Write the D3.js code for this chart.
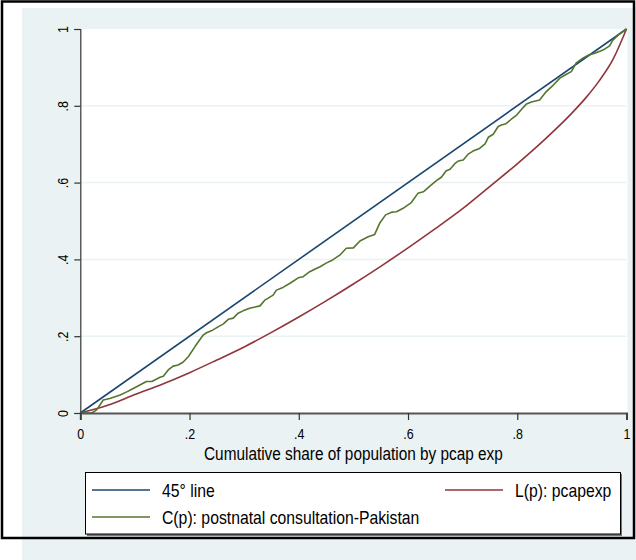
<!DOCTYPE html>
<html lang="en">
<head>
<meta charset="UTF-8">
<script src="https://d3js.org/d3.v7.min.js"></script>
<style>
  body { margin: 0; background: #fff; }
  text { font-family: "Liberation Sans Narrow", "Arial Narrow", "Liberation Sans", Arial, sans-serif; fill: #000; }
</style>
</head>
<body>
<div class="chart"></div>
<script>
// tick values
var tickValues = [0, 0.2, 0.4, 0.6, 0.8, 1]
var tickLabels = ["0", ".2", ".4", ".6", ".8", "1"]

// 45 degree line
var lineP = [0, 1]
var lineV = [0, 1]

// L(p): pcapexp (Lorenz curve)
var lorenzP = [0, .05, .1, .15, .2, .25, .3, .35, .4, .45, .5, .55, .6, .65, .7, .75, .8, .85, .9, .925, .95, .975, 1]
var lorenzV = [0, .02, .048, .075, .105, .138, .172, .21, .25, .292, .336, .382, .43, .48, .532, .59, .649, .712, .781, .82, .865, .92, 1]

// C(p): postnatal consultation-Pakistan (concentration curve)
var concP = [0, .021, .03, .042, .054, .073, .085, .097, .109, .121, .131, .146, .152, .161, .17, .179, .188, .198, .21, .225,
  .231, .24, .253, .262, .271, .28, .289, .298, .31, .32, .329, .338, .344, .353, .359, .371, .384, .399, .408, .42,
  .433, .439, .451, .46, .475, .487, .5, .512, .527, .539, .548, .559, .57, .579, .591, .606, .618, .628, .64, .652,
  .661, .67, .677, .686, .692, .701, .71, .719, .731, .741, .747, .756, .765, .771, .779, .789, .799, .808, .817, .826,
  .841, .853, .866, .878, .89, .899, .908, .92, .93, .942, .957, .969, .975, .987, 1]
var concV = [0, 0, .008, .034, .038, .047, .055, .064, .073, .082, .082, .093, .096, .112, .122, .125, .132, .147, .173, .203,
  .209, .214, .225, .232, .244, .247, .26, .266, .273, .276, .279, .294, .299, .307, .32, .327, .338, .352, .355, .368,
  .377, .381, .391, .397, .411, .429, .43, .448, .459, .465, .494, .516, .523, .524, .533, .548, .572, .576, .591, .605,
  .614, .631, .635, .65, .656, .659, .674, .682, .689, .701, .718, .726, .746, .75, .753, .765, .776, .791, .805, .81,
  .815, .837, .854, .872, .882, .889, .912, .924, .932, .937, .945, .956, .971, .987, 1]

var series = [
  { name: "45° line", p: lineP, v: lineV, color: "#1a476f", curve: d3.curveLinear },
  { name: "L(p): pcapexp", p: lorenzP, v: lorenzV, color: "#90353b", curve: d3.curveMonotoneX },
  { name: "C(p): postnatal consultation-Pakistan", p: concP, v: concV, color: "#55752f", curve: d3.curveLinear }
]

var narrow = 0.83   // the reference uses a narrow face; squeeze the regular one
var width = 636, height = 560
var svg = d3.select(".chart").append("svg")
  .attr("width", width).attr("height", height)

// graph region
svg.append("rect").attr("x", 22).attr("y", 8).attr("width", width - 22).attr("height", height - 8)
  .attr("fill", "#eaf2f3")
svg.append("rect").attr("x", 2).attr("y", 1.5).attr("width", 632).attr("height", 536.5)
  .attr("fill", "none").attr("stroke", "#000").attr("stroke-width", 2.5)

var x = d3.scaleLinear().domain([0, 1]).range([80.3, 626.5])
var y = d3.scaleLinear().domain([0, 1]).range([413, 29])

// plot region
svg.append("rect").attr("x", x(0)).attr("y", y(1)).attr("width", x(1) - x(0) + 1).attr("height", y(0) - y(1))
  .attr("fill", "#fff")

// grid
svg.append("g").selectAll("line").data([0.2, 0.4, 0.6, 0.8]).enter().append("line")
  .attr("x1", x(0)).attr("x2", x(1)).attr("y1", d => y(d)).attr("y2", d => y(d))
  .attr("stroke", "#eaf2f3").attr("stroke-width", 1.5)

// data lines
series.forEach(function (s) {
  var line = d3.line().x(d => x(d[0])).y(d => y(d[1])).curve(s.curve)
  svg.append("path")
    .datum(s.p.map((p, i) => [p, s.v[i]]))
    .attr("d", line)
    .attr("fill", "none").attr("stroke", s.color).attr("stroke-width", 1.6)
    .attr("stroke-linejoin", "round")
})

// axes
var fmt = d => tickLabels[tickValues.indexOf(d)]
var yAxis = svg.append("g").attr("transform", "translate(" + x(0) + ",0)")
  .call(d3.axisLeft(y).tickValues(tickValues).tickFormat(fmt).tickSize(6).tickPadding(4))
yAxis.select(".domain").attr("stroke", "#333").attr("stroke-width", 1.2)
yAxis.selectAll(".tick line").attr("stroke", "#333").attr("stroke-width", 1.2)
yAxis.selectAll(".tick text").attr("font-size", 15).attr("fill", "#000")
  .attr("x", 0).attr("y", 0).attr("dy", 0)
  .attr("text-anchor", "middle")
  .attr("transform", "translate(-12,0) rotate(-90) scale(" + narrow + ",1)")

var xAxis = svg.append("g").attr("transform", "translate(0," + y(0) + ")")
  .call(d3.axisBottom(x).tickValues(tickValues).tickFormat(fmt).tickSize(7).tickPadding(4))
xAxis.select(".domain").attr("stroke", "#555").attr("stroke-width", 2)
xAxis.selectAll(".tick line").attr("stroke", "#333").attr("stroke-width", 1.2)
xAxis.selectAll(".tick text").attr("font-size", 15).attr("fill", "#000").attr("dy", 0).attr("y", 26)
  .attr("transform", "scale(" + narrow + ",1)")

svg.append("text")
  .attr("transform", "translate(" + (x(0) + x(1)) / 2 + ",460) scale(" + narrow + ",1)")
  .attr("text-anchor", "middle").attr("font-size", 18.5)
  .text("Cumulative share of population by pcap exp")

// legend
var lg = svg.append("g")
lg.append("rect").attr("x", 87).attr("y", 474).attr("width", 535).attr("height", 62).attr("fill", "#777")
lg.append("rect").attr("x", 85.5).attr("y", 472.5).attr("width", 535).attr("height", 61.5)
  .attr("fill", "#fff").attr("stroke", "#000").attr("stroke-width", 1)
var legendPos = [[92, 490], [445, 490], [92, 517]]
series.forEach(function (s, i) {
  var p = legendPos[i]
  lg.append("line").attr("x1", p[0]).attr("x2", p[0] + 58).attr("y1", p[1]).attr("y2", p[1])
    .attr("stroke", s.color).attr("stroke-width", 1.6)
  lg.append("text")
    .attr("transform", "translate(" + (p[0] + 70) + "," + (p[1] + 7) + ") scale(" + narrow + ",1)")
    .attr("font-size", 19).text(s.name)
})
</script>
</body>
</html>
